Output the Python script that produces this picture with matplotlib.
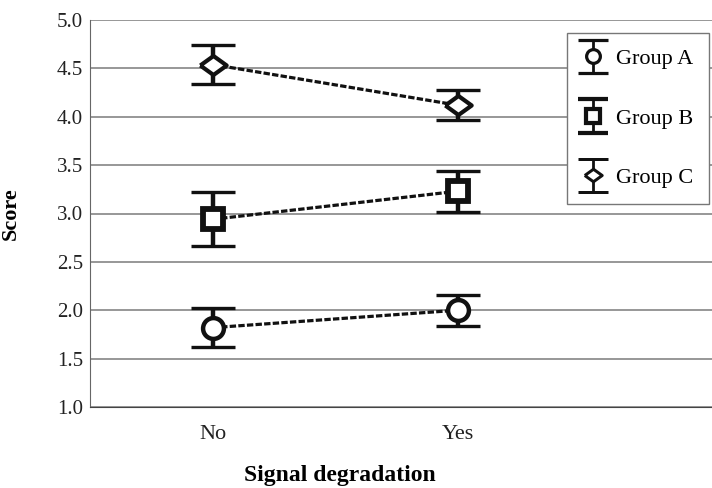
import numpy as np
import matplotlib
matplotlib.use("Agg")
import matplotlib.pyplot as plt
from matplotlib.container import ErrorbarContainer
from matplotlib.legend_handler import HandlerErrorbar

plt.rcParams['font.family'] = ['Liberation Serif', 'DejaVu Serif']

conditions = ["No", "Yes"]
groups = ["Group A", "Group B", "Group C"]
means_a = [1.82, 2.00]
means_b = [2.94, 3.23]
means_c = [4.54, 4.12]
err_a = [0.20, 0.16]
err_b = [0.28, 0.21]
err_c = [0.20, 0.155]

wide_diamond = [(-1, 0), (0, 0.72), (1, 0), (0, -0.72), (-1, 0)]
markers = ["o", "s", wide_diamond]
marker_sizes = [15, 15, 19]
edge_widths = [3.2, 4.2, 3.0]

fig = plt.figure(figsize=(7.12, 4.88), dpi=100)
ax = fig.add_axes([90 / 712, 1 - 407 / 488, 622 / 712, 387 / 488])

x = np.arange(len(conditions)) + 0.5
handles = []
for means, errs, mk, ms, mew, lab in zip([means_a, means_b, means_c],
                                         [err_a, err_b, err_c],
                                         markers, marker_sizes, edge_widths, groups):
    ax.plot(x, means, linestyle=(0, (2, 0.7)), color="#111111", lw=2.3, zorder=3)
    ax.errorbar(x, means, yerr=errs, fmt="none", ecolor="#111111",
                elinewidth=3.2, capsize=15.5, capthick=2.4, zorder=4)
    ax.plot(x, means, linestyle="none", marker=mk, ms=ms, mfc="white",
            mec="#111111", mew=mew, zorder=5)
    # proxy for the legend (marker with vertical error bar)
    h = ax.errorbar([np.nan], [np.nan], yerr=[np.nan], fmt="", marker=mk,
                    linestyle="none", ms=ms * 0.66,
                    mfc="white", mec="#111111", mew=mew * 0.72, color="#111111",
                    ecolor="#111111", elinewidth=2.0, capsize=11, capthick=1.4,
                    label=lab)
    handles.append(h)

ax.set_xlim(0, 622 / 245)
ax.set_ylim(1.0, 5.0)
ax.set_xticks(x)
ax.set_xticklabels(conditions)
ax.set_yticks(np.arange(1.0, 5.01, 0.5))
ax.set_yticklabels([f"{v:.1f}" for v in np.arange(1.0, 5.01, 0.5)])
ax.tick_params(axis="both", length=0, colors="#222222")
ax.tick_params(axis="x", pad=13, labelsize=16)
ax.tick_params(axis="y", pad=5, labelsize=15)

ax.yaxis.grid(True, color="#7a7a7a", lw=1.1)
ax.set_axisbelow(True)
for s in ["top", "right"]:
    ax.spines[s].set_visible(False)
ax.spines["left"].set_color("#666666")
ax.spines["bottom"].set_color("#444444")

ax.set_ylabel("Score", fontsize=16, fontweight="bold")
ax.yaxis.set_label_coords(-0.112, 0.5)
ax.set_xlabel("Signal degradation", fontsize=17, fontweight="bold")
ax.xaxis.set_label_coords(0.402, -0.15)

leg = ax.legend(handles=handles, loc="upper right", bbox_to_anchor=(0.995, 0.966),
                borderaxespad=0, fontsize=16, frameon=True, fancybox=False,
                framealpha=1, edgecolor="#777777", handlelength=0.9,
                handletextpad=0.6, labelspacing=1.75, borderpad=0.7,
                handler_map={ErrorbarContainer: HandlerErrorbar(yerr_size=0.75)})
leg.get_frame().set_linewidth(1.0)

fig.savefig("out.png", dpi=100)
